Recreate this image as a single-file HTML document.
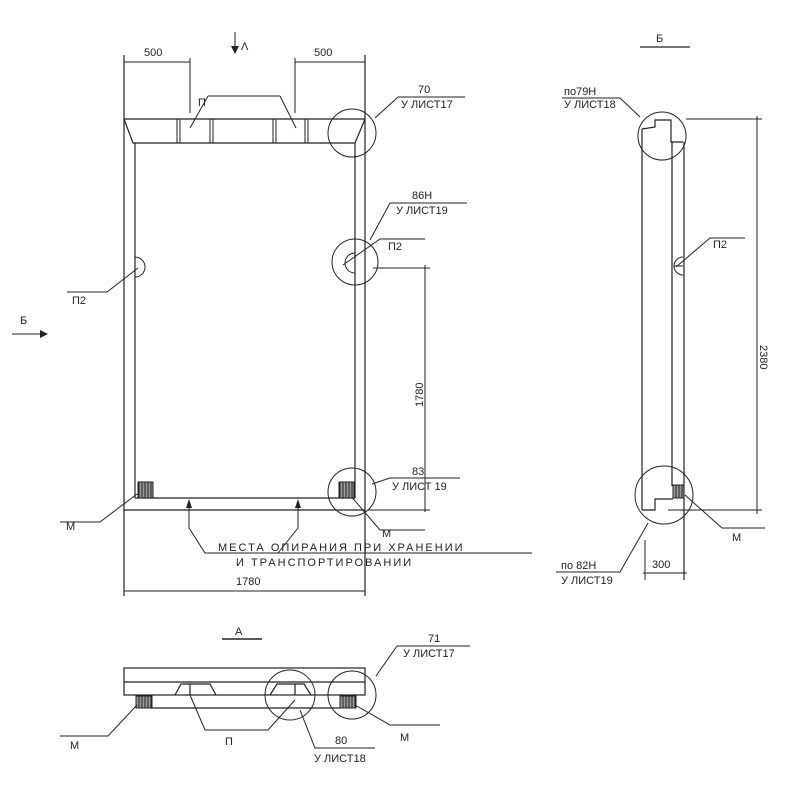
<!DOCTYPE html>
<html><head><meta charset="utf-8"><style>
html,body{margin:0;padding:0;background:#fff}
svg{display:block}
text{font-family:"Liberation Sans","DejaVu Sans",sans-serif;fill:#222;font-size:11px}
</style></head><body>
<svg width="800" height="800" viewBox="0 0 800 800" xmlns="http://www.w3.org/2000/svg">
<defs>
<pattern id="h" width="3" height="3" patternUnits="userSpaceOnUse"><rect width="3" height="3" fill="#999"/><line x1="1" y1="0" x2="1" y2="3" stroke="#222" stroke-width="1"/></pattern>
</defs>
<g stroke="#222" stroke-width="1.2" fill="none">
<line x1="124" y1="55" x2="124" y2="596"/>
<line x1="365" y1="55" x2="365" y2="596"/>
<line x1="135" y1="143" x2="135" y2="498"/>
<line x1="355" y1="143" x2="355" y2="498"/>
<line x1="124" y1="119" x2="365" y2="119"/>
<polyline points="124,119 133,143 355,143 365,119"/>
<line x1="135" y1="498" x2="355" y2="498"/>
<line x1="124" y1="510" x2="365" y2="510"/>
<g stroke-width="1">
<line x1="177" y1="119" x2="177" y2="143"/><line x1="180" y1="119" x2="180" y2="143"/>
<line x1="210" y1="119" x2="210" y2="143"/><line x1="213" y1="119" x2="213" y2="143"/>
<line x1="273" y1="119" x2="273" y2="143"/><line x1="276" y1="119" x2="276" y2="143"/>
<line x1="305" y1="119" x2="305" y2="143"/><line x1="308" y1="119" x2="308" y2="143"/>
<line x1="190" y1="58" x2="190" y2="113"/><line x1="295" y1="58" x2="295" y2="113"/>
<line x1="124" y1="62" x2="190" y2="62"/><line x1="295" y1="62" x2="365" y2="62"/>
<line x1="124" y1="591" x2="365" y2="591"/>
<line x1="235" y1="32" x2="235" y2="50"/>
<polyline points="208,96 280,96"/><line x1="208" y1="96" x2="190" y2="128"/><line x1="280" y1="96" x2="296" y2="128"/>
<circle cx="352" cy="133" r="24"/>
<polyline points="375,118 398,97 465,97"/>
<circle cx="355" cy="262" r="23"/>
<path d="M355,253 A10,10 0 0 0 355,273 Z"/>
<path d="M135,257 A10,10 0 0 1 135,277 Z"/>
<polyline points="370,240 390,203 467,203"/>
<polyline points="343,265 380,239 425,239"/>
<polyline points="138,268 107,292 67,292"/>
<line x1="373" y1="268" x2="430" y2="268"/>
<line x1="368" y1="510" x2="430" y2="510"/>
<line x1="425" y1="265" x2="425" y2="512"/>
<circle cx="352" cy="492" r="24"/>
<polyline points="372,484 390,478 460,478"/>
<polyline points="350,495 380,530 425,530"/>
<polyline points="137,494 100,522 60,522"/>
<polyline points="189,500 189,528 205,553 532,553"/>
<polyline points="298,500 298,528 278,553"/>
<line x1="12" y1="334" x2="42" y2="334"/>
</g>
<g fill="url(#h)" stroke-width="1">
<rect x="138" y="482" width="15" height="16"/>
<rect x="339" y="482" width="15" height="16"/>
</g>
<line x1="640" y1="47" x2="690" y2="47"/>
<polyline points="642,129 655,127 655,120 671,120 671,142 683,142"/>
<line x1="642" y1="129" x2="642" y2="510"/>
<line x1="672" y1="142" x2="672" y2="486"/>
<line x1="684" y1="142" x2="684" y2="580"/>
<polyline points="642,510 655,510 655,499 673,499"/>
<g stroke-width="1">
<circle cx="662" cy="136" r="24"/>
<circle cx="664" cy="495" r="29"/>
<line x1="686" y1="119" x2="762" y2="119"/>
<line x1="668" y1="510" x2="762" y2="510"/>
<line x1="757" y1="116" x2="757" y2="514"/>
<line x1="645" y1="540" x2="645" y2="580"/>
<line x1="643" y1="573" x2="687" y2="573"/>
<polyline points="640,117 620,98 562,98"/>
<polyline points="676,267 710,238 745,238"/>
<path d="M683,257 A9,9 0 0 0 683,275"/>
<line x1="674" y1="266" x2="683" y2="266"/>
<polyline points="648,523 620,572 556,572"/>
<polyline points="685,495 722,528 765,528"/>
</g>
<rect x="673" y="485" width="11" height="13" fill="url(#h)" stroke-width="1"/>
<line x1="222" y1="639" x2="262" y2="639" stroke-width="1.5"/>
<rect x="124" y="668" width="241" height="27"/>
<line x1="124" y1="682" x2="365" y2="682"/>
<line x1="150" y1="708" x2="340" y2="708"/>
<polyline points="175,695 181,684 210,684 216,695"/>
<polyline points="270,695 277,684 304,684 311,695"/>
<line x1="190" y1="684" x2="190" y2="695"/><line x1="295" y1="684" x2="295" y2="695"/>
<g fill="url(#h)" stroke-width="1">
<rect x="136" y="696" width="16" height="12"/>
<rect x="340" y="696" width="16" height="12"/>
</g>
<g stroke-width="1">
<circle cx="290" cy="695" r="25"/>
<circle cx="352" cy="695" r="24"/>
<polyline points="376,676 397,646 470,646"/>
<polyline points="355,705 390,725 440,725"/>
<polyline points="190,695 205,730 268,730 295,700"/>
<polyline points="300,710 315,748 375,748"/>
<polyline points="137,705 108,736 60,736"/>
</g>
</g>
<polygon points="231,46 239,46 235,54" fill="#222"/>
<polygon points="40,330 48,334 40,338" fill="#222"/>
<polygon points="186,508 192,508 189,499" fill="#222"/>
<polygon points="295,508 301,508 298,499" fill="#222"/>
<text x="144" y="56" font-size="13">500</text>
<text x="314" y="56" font-size="13">500</text>
<text x="241" y="50" font-size="14">Λ</text>
<text x="198" y="106" font-size="12">П</text>
<text x="418" y="93">70</text>
<text x="401" y="108" font-size="10">У ЛИСТ17</text>
<text x="412" y="199">86Н</text>
<text x="396" y="214" font-size="10">У ЛИСТ19</text>
<text x="388" y="250">П2</text>
<text x="72" y="304">П2</text>
<text x="20" y="324" font-size="14">Б</text>
<text x="0" y="0" font-size="14" transform="translate(423,407) rotate(-90)">1780</text>
<text x="412" y="475" font-size="10">83</text>
<text x="392" y="490" font-size="11">У ЛИСТ 19</text>
<text x="382" y="537">М</text>
<text x="66" y="530">М</text>
<text x="218" y="551" font-size="12" letter-spacing="2">МЕСТА  ОПИРАНИЯ  ПРИ  ХРАНЕНИИ</text>
<text x="236" y="566" font-size="12" letter-spacing="2">И ТРАНСПОРТИРОВАНИИ</text>
<text x="236" y="585" font-size="14">1780</text>
<text x="656" y="42" font-size="15">Б</text>
<text x="564" y="95" font-size="10">по79Н</text>
<text x="564" y="108" font-size="10">У ЛИСТ18</text>
<text x="713" y="248">П2</text>
<text x="0" y="0" font-size="13" transform="translate(760,345) rotate(90)">2380</text>
<text x="652" y="568">300</text>
<text x="732" y="541">М</text>
<text x="561" y="569" font-size="11">по 82Н</text>
<text x="561" y="584" font-size="10">У ЛИСТ19</text>
<text x="235" y="635" font-size="15">А</text>
<text x="428" y="642" font-size="10">71</text>
<text x="403" y="657" font-size="10">У ЛИСТ17</text>
<text x="400" y="741">М</text>
<text x="225" y="745">П</text>
<text x="335" y="744" font-size="10">80</text>
<text x="314" y="762" font-size="10">У ЛИСТ18</text>
<text x="70" y="749">М</text>
</svg>
</body></html>
